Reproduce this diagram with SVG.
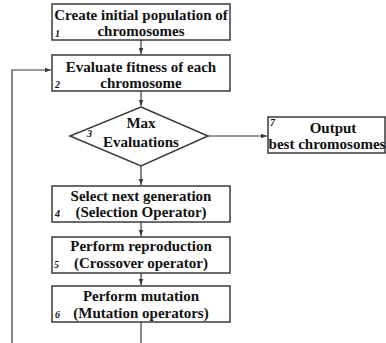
<svg xmlns="http://www.w3.org/2000/svg" width="386" height="343" viewBox="0 0 386 343">
<defs>
<style>
.box{fill:#fff;stroke:#3a3a3a;stroke-width:1.5}
.t{font-weight:bold;font-size:15px;fill:#111;text-anchor:middle}
.n{font-style:italic;font-weight:bold;font-size:10px;fill:#111}
.c{fill:none;stroke:#3a3a3a;stroke-width:1.2}
</style>
<marker id="ah" viewBox="0 0 8 8" refX="8" refY="4" markerWidth="6" markerHeight="6" orient="auto" markerUnits="userSpaceOnUse">
<path d="M0,1 L8,4 L0,7 Z" fill="#3a3a3a"/>
</marker>
</defs>
<rect width="386" height="343" fill="#fff"/>
<g id="connectors">
<line class="c" x1="141" y1="40" x2="141" y2="54" marker-end="url(#ah)"/>
<line class="c" x1="141" y1="91" x2="141" y2="106" marker-end="url(#ah)"/>
<line class="c" x1="141" y1="166" x2="141" y2="185" marker-end="url(#ah)"/>
<line class="c" x1="208" y1="136" x2="267" y2="136" marker-end="url(#ah)"/>
<line class="c" x1="141" y1="222" x2="141" y2="236" marker-end="url(#ah)"/>
<line class="c" x1="141" y1="273" x2="141" y2="285" marker-end="url(#ah)"/>
<line class="c" x1="141" y1="322" x2="141" y2="343"/>
<polyline class="c" points="12,343 12,70 51,70" marker-end="url(#ah)"/>
</g>
<g font-family="Liberation Serif, DejaVu Serif, serif">
<g id="n1">
<rect class="box" x="52" y="4" width="178" height="36"/>
<text class="t" x="141" y="20">Create initial population of</text>
<text class="t" x="141" y="36">chromosomes</text>
<text class="n" x="55" y="37">1</text>
</g>
<g id="n2">
<rect class="box" x="52" y="55" width="178" height="36"/>
<text class="t" x="141" y="72">Evaluate fitness of each</text>
<text class="t" x="141" y="88">chromosome</text>
<text class="n" x="55" y="88">2</text>
</g>
<g id="n3">
<polygon class="box" points="141,107 208,136 141,166 70,136"/>
<text class="t" x="141" y="128">Max</text>
<text class="t" x="141" y="147">Evaluations</text>
<text class="n" x="87" y="137">3</text>
</g>
<g id="n7">
<rect class="box" x="268" y="117" width="117" height="36"/>
<text class="t" x="333" y="133">Output</text>
<text class="t" x="327" y="149">best chromosomes</text>
<text class="n" x="270" y="126" font-style="normal" font-weight="normal">7</text>
</g>
<g id="n4">
<rect class="box" x="52" y="186" width="178" height="36"/>
<text class="t" x="141" y="201">Select next generation</text>
<text class="t" x="141" y="217">(Selection Operator)</text>
<text class="n" x="55" y="217">4</text>
</g>
<g id="n5">
<rect class="box" x="52" y="237" width="178" height="36"/>
<text class="t" x="141" y="251">Perform reproduction</text>
<text class="t" x="141" y="268">(Crossover operator)</text>
<text class="n" x="54" y="268">5</text>
</g>
<g id="n6">
<rect class="box" x="52" y="286" width="178" height="36"/>
<text class="t" x="141" y="301">Perform mutation</text>
<text class="t" x="141" y="318">(Mutation operators)</text>
<text class="n" x="55" y="318">6</text>
</g>
</g>
</svg>
